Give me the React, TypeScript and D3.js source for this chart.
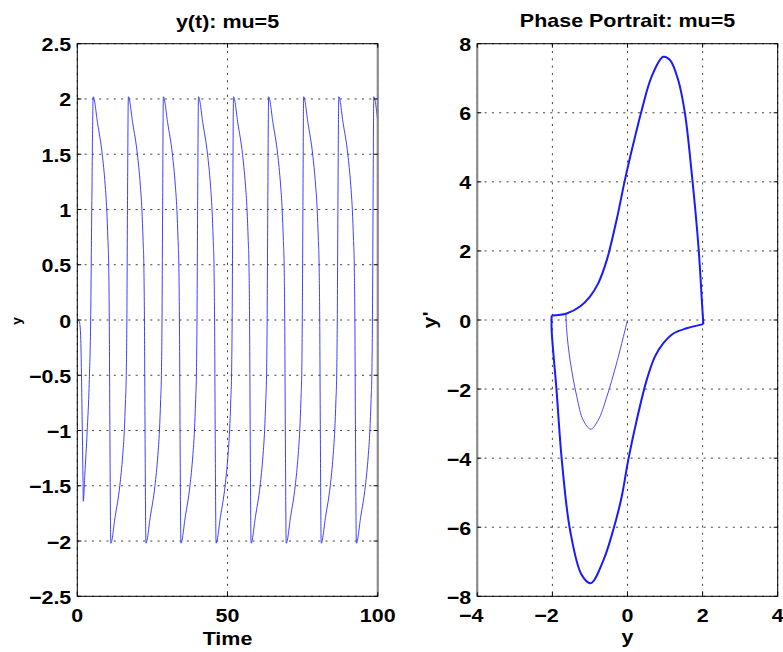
import React from 'react';
import * as d3 from 'd3';

const W = 783;
const H = 652;

// y(t): [time, y]
const yOfTime: [number, number][] = [
  [0, 0], [0.6, -0.01], [1.0, -0.08], [1.3, -0.35], [1.5, -0.7], [1.7, -1.05], [1.9, -1.45], [2.0, -1.64],
  [2.5, -1.4], [3.3, -1.0], [4.0, -0.54], [4.45, 0], [4.8, 0.96],
  [5.3, 2.02], [6.75, 1.78], [8.3, 1.5], [9.25, 1.23], [9.8, 1.0], [10.2, 0.72], [10.45, 0.5], [10.65, 0], [10.85, -1],
  [11.15, -2.02], [12.6, -1.78], [14.15, -1.5], [15.1, -1.23], [15.65, -1.0], [16.05, -0.72], [16.3, -0.5], [16.5, 0], [16.7, 1],
  [17.0, 2.02], [18.45, 1.78], [20.0, 1.5], [20.95, 1.23], [21.5, 1.0], [21.9, 0.72], [22.15, 0.5], [22.35, 0], [22.55, -1],
  [22.85, -2.02], [24.3, -1.78], [25.85, -1.5], [26.8, -1.23], [27.35, -1.0], [27.75, -0.72], [28.0, -0.5], [28.2, 0], [28.4, 1],
  [28.65, 2.02], [30.1, 1.78], [31.65, 1.5], [32.6, 1.23], [33.15, 1.0], [33.55, 0.72], [33.8, 0.5], [34.0, 0], [34.2, -1],
  [34.5, -2.02], [35.95, -1.78], [37.5, -1.5], [38.45, -1.23], [39.0, -1.0], [39.4, -0.72], [39.65, -0.5], [39.85, 0], [40.05, 1],
  [40.35, 2.02], [41.8, 1.78], [43.35, 1.5], [44.3, 1.23], [44.85, 1.0], [45.25, 0.72], [45.5, 0.5], [45.7, 0], [45.9, -1],
  [46.2, -2.02], [47.65, -1.78], [49.2, -1.5], [50.15, -1.23], [50.7, -1.0], [51.1, -0.72], [51.35, -0.5], [51.55, 0], [51.75, 1],
  [52.0, 2.02], [53.45, 1.78], [55.0, 1.5], [55.95, 1.23], [56.5, 1.0], [56.9, 0.72], [57.15, 0.5], [57.35, 0], [57.55, -1],
  [57.85, -2.02], [59.3, -1.78], [60.85, -1.5], [61.8, -1.23], [62.35, -1.0], [62.75, -0.72], [63.0, -0.5], [63.2, 0], [63.4, 1],
  [63.7, 2.02], [65.15, 1.78], [66.7, 1.5], [67.65, 1.23], [68.2, 1.0], [68.6, 0.72], [68.85, 0.5], [69.05, 0], [69.25, -1],
  [69.55, -2.02], [71.0, -1.78], [72.55, -1.5], [73.5, -1.23], [74.05, -1.0], [74.45, -0.72], [74.7, -0.5], [74.9, 0], [75.1, 1],
  [75.35, 2.02], [76.8, 1.78], [78.35, 1.5], [79.3, 1.23], [79.85, 1.0], [80.25, 0.72], [80.5, 0.5], [80.7, 0], [80.9, -1],
  [81.2, -2.02], [82.65, -1.78], [84.2, -1.5], [85.15, -1.23], [85.7, -1.0], [86.1, -0.72], [86.35, -0.5], [86.55, 0], [86.75, 1],
  [87.05, 2.02], [88.5, 1.78], [90.05, 1.5], [91.0, 1.23], [91.55, 1.0], [91.95, 0.72], [92.2, 0.5], [92.4, 0], [92.6, -1],
  [92.9, -2.02], [94.35, -1.78], [95.9, -1.5], [96.85, -1.23], [97.4, -1.0], [97.8, -0.72], [98.05, -0.5], [98.25, 0], [98.45, 1],
  [98.7, 2.02], [100, 1.8],
];

// Phase portrait, limit cycle upper branch [y, y']
const upperBranch: [number, number][] = [
  [-2.02, 0.13], [-1.62, 0.19], [-1.265, 0.39], [-1.0, 0.68], [-0.78, 1.06], [-0.55, 1.74], [-0.29, 2.9],
  [-0.07, 4.05], [0.155, 5.1], [0.38, 6.08], [0.64, 7.04], [0.95, 7.62], [1.13, 7.53], [1.35, 6.95],
  [1.53, 5.98], [1.71, 4.25], [1.89, 2.12], [1.99, 0.39], [2.02, -0.12],
];

// Phase portrait, limit cycle lower branch [y, y']
const lowerBranch: [number, number][] = [
  [2.02, -0.12], [1.58, -0.24], [1.22, -0.39], [0.95, -0.68], [0.73, -1.06], [0.51, -1.74], [0.245, -2.9],
  [0.02, -4.05], [-0.155, -5.12], [-0.38, -6.08], [-0.64, -6.95], [-0.98, -7.62], [-1.22, -7.38],
  [-1.53, -6.08], [-1.75, -4.05], [-1.89, -2.03], [-2.02, -0.29], [-2.02, 0.13],
];

// Phase portrait: initial transient [y, y']
const transient: [number, number][] = [
  [0, 0], [-0.29, -1.25], [-0.55, -2.22], [-0.78, -2.9], [-0.98, -3.16], [-1.18, -2.9],
  [-1.35, -2.22], [-1.53, -1.16], [-1.62, -0.29], [-1.64, 0.19],
];

const leftXTicks = [0, 50, 100];
const leftYTicks = [-2.5, -2, -1.5, -1, -0.5, 0, 0.5, 1, 1.5, 2, 2.5];
const rightXTicks = [-4, -2, 0, 2, 4];
const rightYTicks = [-8, -6, -4, -2, 0, 2, 4, 6, 8];

const leftTitle = 'y(t): mu=5';
const rightTitle = 'Phase Portrait: mu=5';

const FONT = '"Liberation Sans", Arial, Helvetica, sans-serif';
const SX = 1.13;
const FS = 19;

const TOP = 43.7;
const BOTTOM = 596.3;

const fmt = (v: number) => (v < 0 ? '\u2212' + String(Math.abs(v)) : String(v));

function Label({ x, y, text, anchor = 'middle', size = FS, rotate = 0 }: any) {
  return (
    <text
      transform={`translate(${x},${y}) rotate(${rotate}) scale(${SX},1)`}
      textAnchor={anchor}
      fontFamily={FONT}
      fontWeight="bold"
      fontSize={size}
      fill="#000"
    >
      {text}
    </text>
  );
}

function Panel({ x0, x1, xDomain, yDomain, xTicks, yTicks, gridX, gridY, id, children, grayEdge }: any) {
  const xs = d3.scaleLinear().domain(xDomain).range([x0, x1]);
  const ys = d3.scaleLinear().domain(yDomain).range([BOTTOM, TOP]);
  const dash = '2,5.3';
  return (
    <g>
      <defs>
        <clipPath id={id}>
          <rect x={x0} y={TOP} width={x1 - x0} height={BOTTOM - TOP} />
        </clipPath>
      </defs>
      <rect x={x0} y={TOP} width={x1 - x0} height={BOTTOM - TOP} fill="#fff" />
      {gridX.map((v: number) => (
        <line key={'gx' + v} x1={xs(v)} x2={xs(v)} y1={TOP} y2={BOTTOM} stroke="#000" strokeWidth={1} strokeDasharray={dash} opacity={0.75} />
      ))}
      {gridY.map((v: number) => (
        <line key={'gy' + v} x1={x0} x2={x1} y1={ys(v)} y2={ys(v)} stroke="#000" strokeWidth={1} strokeDasharray={dash} opacity={0.75} />
      ))}
      <g clipPath={`url(#${id})`}>{children(xs, ys)}</g>
      <rect x={x0} y={TOP} width={x1 - x0} height={BOTTOM - TOP} fill="none" stroke="#000" strokeWidth={1} />
      {grayEdge === 'right' && <line x1={x1} x2={x1} y1={TOP} y2={BOTTOM} stroke="#888" strokeWidth={2} />}
      {grayEdge === 'left' && <line x1={x0} x2={x0} y1={TOP} y2={BOTTOM} stroke="#888" strokeWidth={2} />}
      {xTicks.map((v: number) => (
        <g key={'xt' + v}>
          <line x1={xs(v)} x2={xs(v)} y1={BOTTOM} y2={BOTTOM - 4} stroke="#000" />
          <line x1={xs(v)} x2={xs(v)} y1={TOP} y2={TOP + 4} stroke="#000" />
          <Label x={xs(v) - (v < 0 ? 6 : 0)} y={621.5} text={fmt(v)} />
        </g>
      ))}
      {yTicks.map((v: number) => (
        <g key={'yt' + v}>
          <line x1={x0} x2={x0 + 4} y1={ys(v)} y2={ys(v)} stroke="#000" />
          <line x1={x1} x2={x1 - 4} y1={ys(v)} y2={ys(v)} stroke="#000" />
          <Label x={x0 - 6} y={ys(v) + 7.5} text={fmt(v)} anchor="end" />
        </g>
      ))}
    </g>
  );
}

export default function App() {
  return (
    <svg
      width={W}
      height={H}
      viewBox={`0 0 ${W} ${H}`}
      style={{ position: 'absolute', left: 0, top: 0, background: '#fff' }}
    >
      <rect x={0} y={0} width={W} height={H} fill="#fff" />
      <Panel
        id="clipL"
        x0={77.3}
        x1={377.7}
        xDomain={[0, 100]}
        yDomain={[-2.5, 2.5]}
        xTicks={leftXTicks}
        yTicks={leftYTicks}
        gridX={leftXTicks}
        gridY={leftYTicks}
        grayEdge="right"
      >
        {(xs: any, ys: any) => {
          const line = d3
            .line<[number, number]>()
            .x((d) => xs(d[0]))
            .y((d) => ys(d[1]))
            .curve(d3.curveMonotoneX);
          return <path d={line(yOfTime) || ''} fill="none" stroke="#2a2aff" strokeWidth={0.9} />;
        }}
      </Panel>
      <Panel
        id="clipR"
        x0={477.3}
        x1={777.7}
        xDomain={[-4, 4]}
        yDomain={[-8, 8]}
        xTicks={rightXTicks}
        yTicks={rightYTicks}
        gridX={rightXTicks}
        gridY={rightYTicks}
        grayEdge="left"
      >
        {(xs: any, ys: any) => {
          const line = d3
            .line<[number, number]>()
            .x((d) => xs(d[0]))
            .y((d) => ys(d[1]))
            .curve(d3.curveCatmullRom.alpha(0.5));
          return (
            <g>
              <path d={line(transient) || ''} fill="none" stroke="#4a4aff" strokeWidth={1} />
              <path d={line(upperBranch) || ''} fill="none" stroke="#1a1aff" strokeWidth={2} strokeLinejoin="round" />
              <path d={line(lowerBranch) || ''} fill="none" stroke="#1a1aff" strokeWidth={2} strokeLinejoin="round" />
            </g>
          );
        }}
      </Panel>
      <Label x={227.5} y={28} text={leftTitle} />
      <Label x={627.5} y={27} text={rightTitle} />
      <Label x={227.5} y={645} text="Time" />
      <Label x={627.5} y={643} text="y" />
      <Label x={21} y={321} text="y" size={12} rotate={-90} />
      <Label x={436} y={320} text="y'" rotate={-90} />
    </svg>
  );
}
